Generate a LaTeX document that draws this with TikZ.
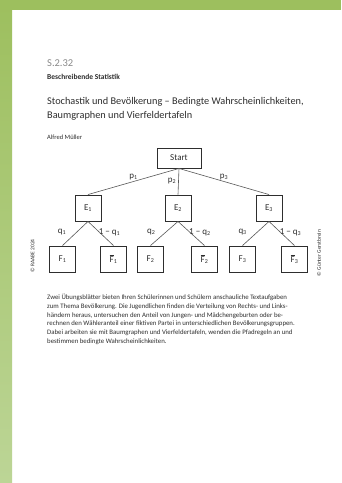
\documentclass[tikz,border=0pt]{standalone}
\usepackage{fontspec}
\setmainfont{Carlito}
\usepackage{xcolor}
\usetikzlibrary{positioning}

\definecolor{raabegreen}{HTML}{9DBF5E}
\definecolor{raabelight}{HTML}{BCD596}
\definecolor{inkgray}{HTML}{2E2E2E}
\definecolor{numgray}{HTML}{8A8A8A}

\newcommand{\barF}{$\overline{\mbox{F}}$}

\begin{document}
\begin{tikzpicture}[x=1pt,y=-1pt,
	box/.style={draw=inkgray,line width=0.9pt,inner sep=0pt,text=inkgray,font=\fontsize{9}{10}\selectfont},
	evbox/.style={box,minimum width=26pt,minimum height=26pt},
	lbl/.style={inner sep=1pt,text=inkgray,font=\fontsize{9}{10}\selectfont},
	txt/.style={anchor=base west,inner sep=0pt,text=inkgray}]
		\useasboundingbox (0,0) rectangle (341,483);
		\fill[white] (0,0) rectangle (341,483);
		% green margins
		\shade[top color=raabegreen,bottom color=raabelight] (0,0) rectangle (12,483);
		\fill[raabegreen] (0,0) rectangle (341,10);
		%
		% header
		\node[txt,text=numgray,font=\fontsize{10.5}{12}\selectfont] (nr) at (47,66) {S.2.32};
		\node[txt,font=\fontsize{7.5}{9}\selectfont\bfseries] (sect) at (47,79.5) {Beschreibende Statistik};
		\node[txt,font=\fontsize{10.3}{12}\selectfont] (title1) at (47,104) {Stochastik und Bevölkerung – Bedingte Wahrscheinlichkeiten,};
		\node[txt,font=\fontsize{10.3}{12}\selectfont] (title2) at (47,118) {Baumgraphen und Vierfeldertafeln};
		\node[txt,font=\fontsize{6.5}{8}\selectfont] (author) at (47,139.5) {Alfred Müller};
		%
		% tree
		\node[box,minimum width=44pt,minimum height=20pt] (start) at (179,158) {Start};
		\node[evbox] (E1) at (88,208) {E\textsubscript{1}};
		\node[evbox] (E2) at (178,208) {E\textsubscript{2}};
		\node[evbox] (E3) at (269,208) {E\textsubscript{3}};
		\node[evbox] (F1) at (62.5,259) {F\textsubscript{1}};
		\node[evbox] (Fb1) at (113.5,259) {\barF\textsubscript{1}};
		\node[evbox] (F2) at (150.5,259) {F\textsubscript{2}};
		\node[evbox] (Fb2) at (204.5,259) {\barF\textsubscript{2}};
		\node[evbox] (F3) at (242.5,259) {F\textsubscript{3}};
		\node[evbox] (Fb3) at (294.5,259) {\barF\textsubscript{3}};
		%
		\path[draw=inkgray!80,line width=0.6pt]
		% first stage
		(start.south) edge node[lbl,above=0pt]{p\textsubscript{1}} (E1.north)
		(start.south) edge node[lbl,left=1pt]{p\textsubscript{2}} (E2.north)
		(start.south) edge node[lbl,above=0pt]{p\textsubscript{3}} (E3.north)
		% second stage
		(E1.south) edge node[lbl,pos=0.45,left=9pt]{q\textsubscript{1}} (F1.north)
		(E1.south) edge node[lbl,pos=0.45,right=-2pt]{1 − q\textsubscript{1}} (Fb1.north)
		(E2.south) edge node[lbl,pos=0.45,left=9pt]{q\textsubscript{2}} (F2.north)
		(E2.south) edge node[lbl,pos=0.45,right=-2pt]{1 − q\textsubscript{2}} (Fb2.north)
		(E3.south) edge node[lbl,pos=0.45,left=9pt]{q\textsubscript{3}} (F3.north)
		(E3.south) edge node[lbl,pos=0.45,right=-2pt]{1 − q\textsubscript{3}} (Fb3.north);
		%
		% credits
		\node[rotate=90,inner sep=0pt,text=inkgray,font=\fontsize{5.5}{6}\selectfont] (cr1) at (32.5,256) {© RAABE 2024};
		\node[rotate=90,inner sep=0pt,text=inkgray,font=\fontsize{5.5}{6}\selectfont] (cr2) at (319,253) {© Günter Gerstbrein};
		%
		% teaser text
		\node[txt,font=\fontsize{6.8}{8}\selectfont] (l1) at (47,299.5) {Zwei Übungsblätter bieten Ihren Schülerinnen und Schülern anschauliche Textaufgaben};
		\node[txt,font=\fontsize{6.8}{8}\selectfont] (l2) at (47,308.3) {zum Thema Bevölkerung. Die Jugendlichen finden die Verteilung von Rechts- und Links-};
		\node[txt,font=\fontsize{6.8}{8}\selectfont] (l3) at (47,317.1) {händern heraus, untersuchen den Anteil von Jungen- und Mädchengeburten oder be-};
		\node[txt,font=\fontsize{6.8}{8}\selectfont] (l4) at (47,325.9) {rechnen den Wähleranteil einer fiktiven Partei in unterschiedlichen Bevölkerungsgruppen.};
		\node[txt,font=\fontsize{6.8}{8}\selectfont] (l5) at (47,334.7) {Dabei arbeiten sie mit Baumgraphen und Vierfeldertafeln, wenden die Pfadregeln an und};
		\node[txt,font=\fontsize{6.8}{8}\selectfont] (l6) at (47,343.5) {bestimmen bedingte Wahrscheinlichkeiten.};
	\end{tikzpicture}
\end{document}
